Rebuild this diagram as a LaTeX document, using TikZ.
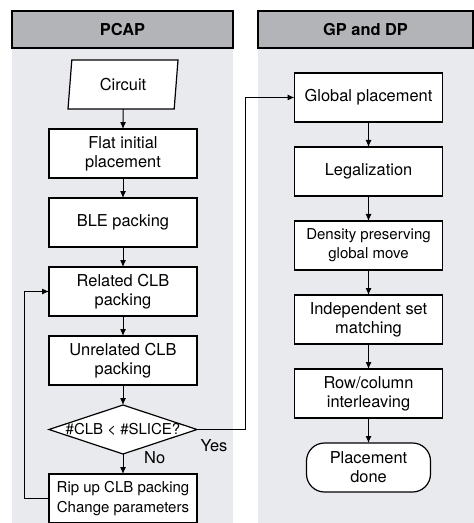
\documentclass[tikz,border=0pt]{standalone}
\usepackage{fontspec}
\setmainfont{TeX Gyre Heros}
\usetikzlibrary{arrows.meta,positioning,shapes.geometric}
\definecolor{HeadGray}{RGB}{179,180,184}
\definecolor{PanelGray}{RGB}{233,234,238}

\begin{document}
\begin{tikzpicture}[x=1pt,y=1pt,>={Latex[length=3.5pt,width=3pt]},line width=0.5pt,font=\fontsize{8.2}{9.6}\selectfont,
  proc/.style={draw,line width=0.6pt,fill=white,align=center,minimum width=74pt,minimum height=24.5pt,inner sep=1pt,outer sep=0pt},
  tight/.style={font=\fontsize{7.5}{9.6}\selectfont},
  head/.style={draw,line width=0.6pt,fill=HeadGray,minimum height=18.5pt,font=\fontsize{8.2}{9.6}\selectfont\bfseries}]
\useasboundingbox (0,0) rectangle (237,-261.5);
\fill[PanelGray] (6,-24) rectangle (116.5,-261.5);
\fill[PanelGray] (129,-24) rectangle (237,-261.5);
\node[head,minimum width=110.5pt] (hl) at (61.25,-14.75){PCAP};
\node[head,minimum width=107.5pt] (hr) at (182.75,-14.75){GP and DP};

\node[proc,trapezium,trapezium left angle=77,trapezium right angle=103,trapezium stretches body,minimum width=55pt] (ci) at (61.5,-42.25){Circuit};
\node[proc,below=10pt of ci] (fl){Flat initial\\placement};
\node[proc,below=10pt of fl] (ble){BLE packing};
\node[proc,below=10pt of ble] (rel){Related CLB\\packing};
\node[proc,below=10pt of rel] (unr){Unrelated CLB\\packing};
\node[proc,tight,diamond,aspect=3,inner sep=0pt,below=10pt of unr] (dia){\makebox[0pt]{\#CLB < \#SLICE?}};
\node[proc,tight,below=10pt of dia] (rip){Rip up CLB packing\\Change parameters};

\node[proc] (gp) at (184.25,-48.75){Global placement};
\node[proc,below=12.5pt of gp] (leg){Legalization};
\node[proc,tight,below=12.5pt of leg] (dpm){Density preserving\\global move};
\node[proc,below=12.5pt of dpm] (ism){Independent set\\matching};
\node[proc,below=12.5pt of ism] (rci){Row/column\\interleaving};
\node[proc,rounded corners=9pt,minimum width=62pt,below=12.5pt of rci] (done){Placement\\done};

\draw[->] (ci)--(fl);\draw[->] (fl)--(ble);\draw[->] (ble)--(rel);\draw[->] (rel)--(unr);\draw[->] (unr)--(dia);
\draw[->] (dia)--node[pos=0.2,right=7pt]{No}(rip);
\draw[->] (rip.west)--++(-12.5,0)|-(rel.west);
\draw[->] (dia.east)--node[below=1.5pt,xshift=-3.5pt]{Yes}++(24,0)|-(gp.west);
\draw[->] (gp)--(leg);\draw[->] (leg)--(dpm);\draw[->] (dpm)--(ism);\draw[->] (ism)--(rci);\draw[->] (rci)--(done);
\end{tikzpicture}
\end{document}
